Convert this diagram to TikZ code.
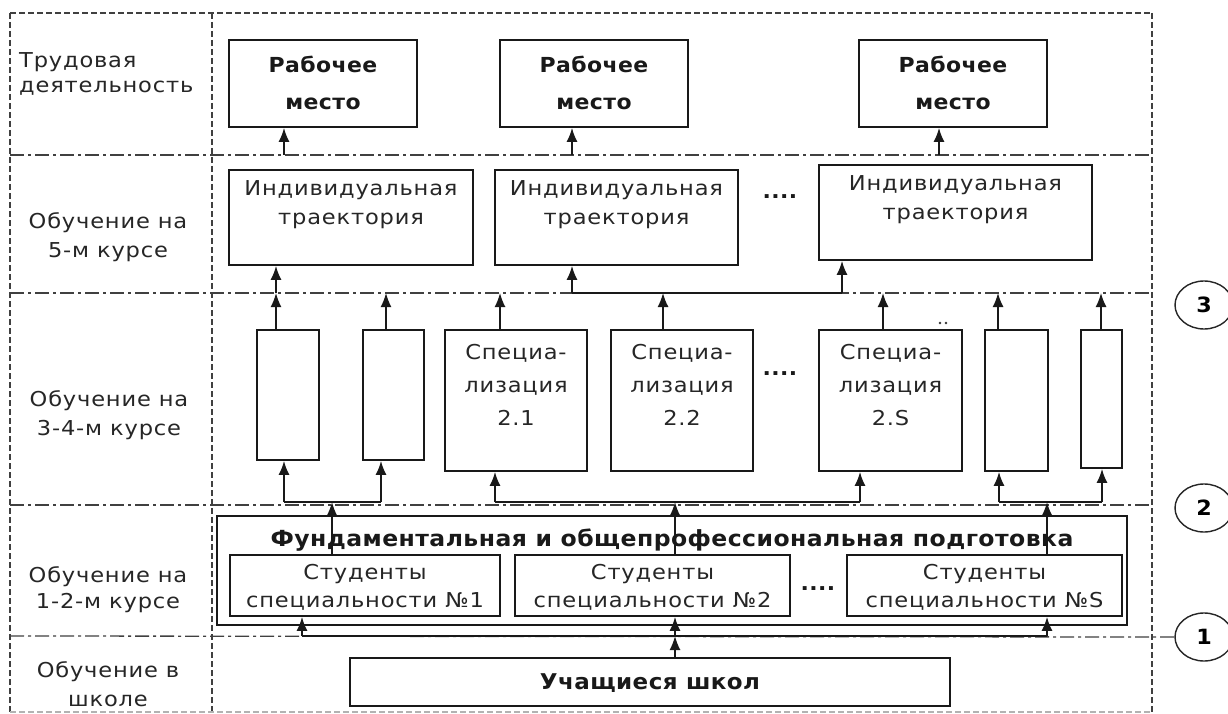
\documentclass[tikz,border=0pt]{standalone}
\usepackage{fontspec}
\usetikzlibrary{arrows.meta,shapes.geometric}
\newfontfamily\regf{DejaVu Sans}[FakeStretch=1.1,LetterSpace=4]
\newfontfamily\boldf{DejaVu Sans}[FakeStretch=1.06,LetterSpace=2]
\tikzset{
 box/.style={draw=black!90, line width=1.8pt, inner sep=0pt},
 txt/.style={font=\regf\fontsize{20.5}{29}\selectfont, align=center, inner sep=0pt, text=black!85},
 btxt/.style={font=\boldf\bfseries\fontsize{20.7}{37}\selectfont, align=center, inner sep=0pt, text=black!90},
 conn/.style={line width=1.6pt, draw=black!90},
 arr/.style={conn, -{Latex[length=14pt,width=11pt]}},
 sepline/.style={line width=1.3pt, draw=black!75, dash pattern=on 14pt off 4pt on 3pt off 4pt},
 frameline/.style={line width=1.3pt, draw=black!75, dash pattern=on 6pt off 3pt},
 num/.style={ellipse, draw=black!85, line width=1.4pt, minimum width=58pt, minimum height=48pt, inner sep=0pt, font=\boldf\bfseries\fontsize{21}{24}\selectfont},
}
\begin{document}
\begin{tikzpicture}[x=1pt,y=-1pt]
\useasboundingbox (0,0) rectangle (1228,714);
\fill[white] (0,0) rectangle (1228,714);

% frame and separators
\draw[frameline] (10,13) -- (1152,13);
\draw[frameline] (10,13) -- (10,714);
\draw[frameline] (212,13) -- (212,714);
\draw[frameline] (1152,13) -- (1152,714);
\draw[frameline, draw=black!30] (10,712) -- (1152,712);
\draw[sepline] (10,155) -- (1152,155);
\draw[sepline] (10,293) -- (1152,293);
\draw[sepline] (10,505) -- (1152,505);

% circled numbers
\node[num] (c3) at (1204,305) {3};
\node[num] (c2) at (1204,508) {2};
\node[num] (c1) at (1204,637) {1};
\draw[sepline] (10,636) -- (c1.west);

% row labels
\node[txt, anchor=west, align=left, font=\regf\fontsize{20.5}{25}\selectfont] (lab1) at (19,74) {Трудовая\\деятельность};
\node[txt] (lab2) at (108,237) {Обучение на\\5-м курсе};
\node[txt] (lab3) at (109,415) {Обучение на\\3-4-м курсе};
\node[txt, font=\regf\fontsize{20.5}{26}\selectfont] (lab4) at (108,590) {Обучение на\\1-2-м курсе};
\node[txt] (lab5) at (108,684) {Обучение в\\школе};

% work places
\node[box, minimum width=188pt, minimum height=87pt] (rab1) at (323,83.5) {};
\node[box, minimum width=188pt, minimum height=87pt] (rab2) at (594,83.5) {};
\node[box, minimum width=188pt, minimum height=87pt] (rab3) at (953,83.5) {};
\node[btxt] (rab1t) at (323,83) {Рабочее\\место};
\node[btxt] (rab2t) at (594,83) {Рабочее\\место};
\node[btxt] (rab3t) at (953,83) {Рабочее\\место};

% individual trajectories
\node[box, minimum width=244pt, minimum height=95pt] (traj1) at (351,217.5) {};
\node[box, minimum width=243pt, minimum height=95pt] (traj2) at (616.5,217.5) {};
\node[box, minimum width=273pt, minimum height=95pt] (traj3) at (955.5,212.5) {};
\node[txt] (traj1t) at (351,205) {Индивидуальная\\траектория};
\node[txt] (traj2t) at (616.5,205) {Индивидуальная\\траектория};
\node[txt] (traj3t) at (955.5,200) {Индивидуальная\\траектория};
\node[btxt] (dots1) at (780,197) {....};

% specialisations
\node[box, minimum width=62pt, minimum height=130pt] (nar1) at (288,395) {};
\node[box, minimum width=61pt, minimum height=130pt] (nar2) at (393.5,395) {};
\node[box, minimum width=142pt, minimum height=141pt] (spec1) at (516,400.5) {};
\node[box, minimum width=142pt, minimum height=141pt] (spec2) at (682,400.5) {};
\node[box, minimum width=143pt, minimum height=141pt] (specS) at (890.5,400.5) {};
\node[box, minimum width=63pt, minimum height=141pt] (nar3) at (1016.5,400.5) {};
\node[box, minimum width=41pt, minimum height=138pt] (nar4) at (1101.5,399) {};
\node[txt, font=\regf\fontsize{20.5}{33}\selectfont] (spec1t) at (516,385) {Специа-\\лизация\\2.1};
\node[txt, font=\regf\fontsize{20.5}{33}\selectfont] (spec2t) at (682,385) {Специа-\\лизация\\2.2};
\node[txt, font=\regf\fontsize{20.5}{33}\selectfont] (specSt) at (890.5,385) {Специа-\\лизация\\2.S};
\node[btxt] (dots2) at (780,374) {....};
\fill[black!80] (940,323) circle (1.3pt) coordinate (st1);
\fill[black!80] (946,323) circle (1.3pt) coordinate (st2);

% fundamental block
\node[box, minimum width=910pt, minimum height=109pt] (fund) at (672,570.5) {};
\node[box, minimum width=270pt, minimum height=61pt] (st1b) at (365,585.5) {};
\node[box, minimum width=275pt, minimum height=61pt] (st2b) at (652.5,585.5) {};
\node[box, minimum width=275pt, minimum height=61pt] (stSb) at (984.5,585.5) {};
\node[txt, font=\regf\fontsize{20.5}{28}\selectfont] (st1t) at (365,587) {Студенты\\специальности №1};
\node[txt, font=\regf\fontsize{20.5}{28}\selectfont] (st2t) at (652.5,587) {Студенты\\специальности №2};
\node[txt, font=\regf\fontsize{20.5}{28}\selectfont] (stSt) at (984.5,587) {Студенты\\специальности №S};
\node[btxt] (dots3) at (818,589) {....};

% school
\node[box, minimum width=600pt, minimum height=48pt] (school) at (650,682) {};
\node[btxt, font=\boldf\bfseries\fontsize{21.7}{26}\selectfont] (schoolt) at (650,683) {Учащиеся школ};

% connectors: 5th course -> work places
\coordinate (w1) at (284,155);
\coordinate (w2) at (572,155);
\coordinate (w3) at (939,155);
\draw[arr] (w1) -- (w1 |- rab1.south);
\draw[arr] (w2) -- (w2 |- rab2.south);
\draw[arr] (w3) -- (w3 |- rab3.south);

% 3-4 -> 5
\coordinate (t1) at (276,293);
\coordinate (t2) at (572,293);
\coordinate (t3) at (842,293);
\draw[conn] (t2) -- (t3);
\draw[arr] (t1) -- (t1 |- traj1.south);
\draw[arr] (t2) -- (t2 |- traj2.south);
\draw[arr] (t3) -- (t3 |- traj3.south);
\coordinate (u1) at (276,293);
\coordinate (u2) at (386,293);
\coordinate (u3) at (500,293);
\coordinate (u4) at (663,293);
\coordinate (u5) at (883,293);
\coordinate (u6) at (998,293);
\coordinate (u7) at (1101,293);
\draw[arr] (u1 |- nar1.north) -- (u1);
\draw[arr] (u2 |- nar2.north) -- (u2);
\draw[arr] (u3 |- spec1.north) -- (u3);
\draw[arr] (u4 |- spec2.north) -- (u4);
\draw[arr] (u5 |- specS.north) -- (u5);
\draw[arr] (u6 |- nar3.north) -- (u6);
\draw[arr] (u7 |- nar4.north) -- (u7);

% 1-2 -> 3-4
\coordinate (a1) at (284,502);
\coordinate (a2) at (381,502);
\coordinate (a3) at (332,502);
\draw[conn] (a1) -- (a2);
\draw[arr] (a1) -- (a1 |- nar1.south);
\draw[arr] (a2) -- (a2 |- nar2.south);
\draw[arr] (a3 |- st1b.north) -- (a3);
\coordinate (b1) at (495,502);
\coordinate (b2) at (860,502);
\coordinate (b3) at (675,502);
\draw[conn] (b1) -- (b2);
\draw[arr] (b1) -- (b1 |- spec1.south);
\draw[arr] (b2) -- (b2 |- specS.south);
\draw[arr] (b3 |- st2b.north) -- (b3);
\coordinate (r1) at (999,502);
\coordinate (r2) at (1102,502);
\coordinate (r3) at (1047,502);
\draw[conn] (r1) -- (r2);
\draw[arr] (r1) -- (r1 |- nar3.south);
\draw[arr] (r2) -- (r2 |- nar4.south);
\draw[arr] (r3 |- stSb.north) -- (r3);

% school -> 1-2
\coordinate (s1) at (302,636);
\coordinate (s2) at (675,636);
\coordinate (s3) at (1047,636);
\draw[conn] (s1) -- (s3);
\draw[arr] (s1) -- (s1 |- st1b.south);
\draw[arr] (s2) -- (s2 |- st2b.south);
\draw[arr] (s3) -- (s3 |- stSb.south);
\draw[arr] (s2 |- school.north) -- (s2);

% title of fundamental block
\node[btxt, font=\boldf\bfseries\fontsize{22.2}{26}\selectfont] (fundt) at (672,540) {Фундаментальная и общепрофессиональная подготовка};
\end{tikzpicture}
\end{document}
